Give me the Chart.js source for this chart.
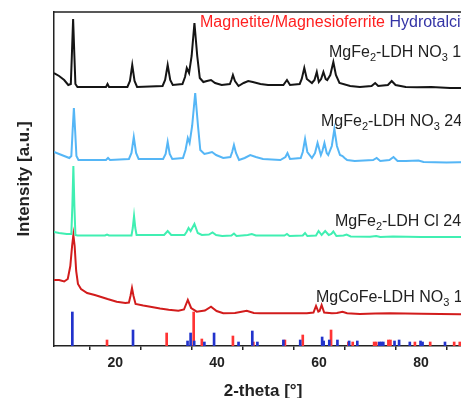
<!DOCTYPE html>
<html>
<head>
<meta charset="utf-8">
<script src="https://cdn.jsdelivr.net/npm/chart.js@4/dist/chart.umd.min.js"></script>
<style>
  html, body { margin: 0; padding: 0; background: #fff; overflow: hidden; width: 461px; height: 398px; }
  canvas { display: block; }
</style>
</head>
<body>
<canvas id="xrdChart" width="480" height="398"></canvas>
<script>
// XRD patterns, stacked with offsets: [2-theta, intensity a.u.]
const mgFeNo3_1h = [
  [8, 273], [9, 270], [10, 266], [10.8, 261], [11.3, 262], [11.5, 290], [11.75, 327], [12.0, 290], [12.2, 262], [12.6, 259],
  [15, 259], [18.2, 259], [18.5, 262], [18.8, 259], [22.4, 259], [22.9, 265], [23.35, 281], [23.8, 265], [24.3, 259],
  [29.3, 260], [29.8, 266], [30.3, 281], [30.8, 266], [31.3, 261], [33.2, 262], [33.7, 269], [34.05, 278], [34.5, 273],
  [35.0, 290], [35.55, 323], [36.1, 290], [36.6, 268], [37.3, 264], [38.0, 265], [38.8, 266], [39.6, 263], [40.9, 261],
  [42.5, 262], [42.8, 266], [43.1, 271], [43.5, 265], [44.2, 260], [45.2, 263], [46.1, 265], [47, 264], [48.5, 262],
  [50, 261], [53.0, 261], [53.7, 266], [54.3, 261], [56.2, 262], [56.6, 267], [57.1, 278], [57.6, 267], [58.6, 263],
  [59.1, 266], [59.55, 274], [59.95, 264], [60.4, 267], [60.85, 274], [61.3, 267], [61.6, 266], [62.2, 271], [62.8, 284],
  [63.3, 271], [64.0, 263], [66.1, 260], [68, 259], [70.3, 260], [71.0, 263], [71.6, 260], [73.5, 261], [74.25, 265],
  [75, 261], [77, 259], [79.2, 258.7], [82, 259], [85.7, 258], [90, 258]
];
const mgFeNo3_24h = [
  [8, 194], [9, 192], [10, 190], [11.0, 188], [11.4, 190], [11.65, 215], [11.9, 238], [12.15, 215], [12.4, 190], [12.8, 186],
  [18.2, 186], [18.6, 188], [19, 186], [22.7, 187], [23.2, 193], [23.65, 209], [24.1, 193], [24.6, 187], [29.4, 187],
  [29.9, 192], [30.3, 204], [30.7, 192], [31.2, 187], [33.3, 188], [33.8, 196], [34.25, 208], [34.6, 203], [35.1, 220],
  [35.7, 253], [36.25, 220], [36.7, 196], [37.5, 192], [38.3, 193], [39.0, 194], [39.8, 191], [41.2, 188], [42.6, 189],
  [42.95, 194], [43.3, 201], [43.7, 193], [44.3, 186], [45.4, 188], [46.5, 191], [47.6, 189], [49, 187], [52.4, 186],
  [53.4, 189], [53.8, 193], [54.3, 187], [56.4, 188], [56.8, 194], [57.25, 207], [57.7, 194], [58.6, 188], [59.2, 193],
  [59.7, 203], [60.35, 191], [60.65, 195], [61.05, 203], [61.5, 193], [61.8, 191], [62.5, 200], [63.0, 217], [63.5, 200],
  [64.1, 191], [64.6, 190], [65.0, 188], [65.5, 186], [67, 185], [70.6, 186], [71.3, 188], [72, 185], [73.8, 186],
  [74.6, 189], [75.4, 185], [77, 185], [79.5, 185.5], [80.5, 184], [85, 183.5], [90, 184]
];
const mgFeCl_24h = [
  [8, 114], [9, 113], [10.5, 112], [11.4, 112], [11.6, 140], [11.8, 180], [12.0, 140], [12.2, 111], [12.6, 110.5],
  [18.0, 110.5], [18.4, 111.5], [18.8, 110.5], [23.2, 110.5], [23.45, 118], [23.7, 130], [23.95, 118], [24.2, 111],
  [29.6, 111], [30.3, 115], [31.0, 111], [33.6, 111], [34.0, 114], [34.4, 118], [34.8, 115], [35.55, 122], [36.2, 113],
  [37, 111], [38.4, 111.5], [39.1, 113.5], [39.8, 111], [41, 110], [42.8, 110.5], [43.3, 112.5], [43.8, 110], [46, 111],
  [46.8, 112], [47.6, 110.5], [53.2, 110.5], [53.7, 112], [54.2, 110], [56.8, 110.5], [57.25, 113], [57.7, 110],
  [59.4, 110.5], [59.9, 115], [60.5, 111], [61.2, 115], [61.9, 111], [62.4, 112], [62.8, 114.5], [63.4, 110],
  [64.8, 110.5], [65.4, 111.5], [66.2, 109.5], [70, 109.3], [71.2, 110], [72, 109], [74.5, 109.5], [80, 109], [90, 109]
];
const mgCoFeNo3_1h = [
  [8, 66], [9, 66], [10, 64.5], [10.7, 67], [11.2, 80], [11.55, 100], [11.8, 111], [12.05, 100], [12.35, 75], [12.7, 62],
  [13.3, 57], [14.5, 53], [16, 51], [17.1, 49.3], [18.5, 47], [20.3, 44.3], [22.0, 43], [22.7, 43.5], [23.0, 50],
  [23.3, 58], [23.6, 50], [24.0, 42], [25.5, 40.5], [26.9, 39.3], [28.8, 37.5], [30.5, 36.2], [32.4, 35.3], [33.5, 36.5],
  [34.25, 46], [34.9, 38], [36.0, 34.3], [37.6, 35.5], [38.8, 39.3], [39.9, 35], [41.2, 32.7], [43.5, 33], [45.8, 35.3],
  [47.2, 33], [48.4, 32.7], [51.0, 32.7], [57.6, 32.7], [58.9, 33.5], [59.4, 40], [59.85, 34.3], [60.1, 35], [60.5, 41],
  [61.0, 33.5], [62.5, 32.7], [63.5, 33], [64.6, 34.3], [65.5, 32.7], [68, 32], [71, 32.5], [73.9, 32.7], [80, 32.3],
  [87.6, 31.7], [90, 31.7]
];

// reference stick patterns: [2-theta, relative height]
const hydrotalciteRef = [
  [11.6, 34], [23.5, 16], [34.2, 5], [34.8, 13], [35.5, 5], [37.5, 4], [39.4, 13], [44.2, 4], [46.9, 15], [47.9, 4],
  [53.0, 6], [56.3, 6], [60.6, 9], [60.9, 5], [62.0, 6], [63.6, 6], [65.9, 5], [67.5, 5], [71.8, 4], [72.2, 4], [72.6, 4],
  [74.8, 5], [75.7, 6], [77.8, 4], [79.9, 5], [80.3, 4], [84.7, 4]
];
const magnetiteRef = [
  [18.4, 6], [30.1, 13], [35.4, 34], [37.0, 7], [43.1, 10], [47.1, 4], [53.3, 6], [56.8, 11], [62.35, 16], [65.75, 4],
  [66.6, 4], [70.8, 4], [71.2, 4], [73.6, 6], [74.0, 6], [78.8, 4], [81.8, 4], [86.5, 4], [87.6, 4]
];

const xTicks = [10, 20, 30, 40, 50, 60, 70, 80, 90];

// curve labels: pieces of [text, isSubscript]
const curveLabels = [
  { x: 329, y: 57, parts: [["MgFe", 0], ["2", 1], ["-LDH NO", 0], ["3", 1], [" 1h", 0]] },
  { x: 321, y: 126, parts: [["MgFe", 0], ["2", 1], ["-LDH NO", 0], ["3", 1], [" 24h", 0]] },
  { x: 335, y: 226, parts: [["MgFe", 0], ["2", 1], ["-LDH Cl 24h", 0]] },
  { x: 316, y: 302, parts: [["MgCoFe-LDH NO", 0], ["3", 1], [" 1h", 0]] }
];

const FONT = "'Liberation Sans', Arial, sans-serif";
const toXY = arr => arr.map(p => ({ x: p[0], y: p[1] }));

function lineSet(data, color) {
  return {
    type: "line",
    data: toXY(data),
    borderColor: color,
    borderWidth: 2,
    pointRadius: 0,
    tension: 0,
    fill: false,
    order: 1
  };
}

function stickSet(data, color) {
  return {
    type: "bar",
    data: toXY(data),
    backgroundColor: color,
    barThickness: 2,
    grouped: false,
    order: 2
  };
}

// frame top line + text annotations
const annotatePlugin = {
  id: "annotate",
  afterDraw(chart) {
    const ctx = chart.ctx;
    const area = chart.chartArea;
    ctx.save();
    ctx.strokeStyle = "#222";
    ctx.lineWidth = 1.5;
    ctx.beginPath();
    ctx.moveTo(area.left, area.top);
    ctx.lineTo(area.right, area.top);
    ctx.lineTo(area.right, area.bottom);
    ctx.stroke();

    ctx.textBaseline = "alphabetic";
    ctx.font = "16px " + FONT;
    ctx.fillStyle = "#ff1f1f";
    const red = "Magnetite/Magnesioferrite";
    ctx.fillText(red, 200, 27);
    const w = ctx.measureText(red + " ").width;
    ctx.fillStyle = "#3434a6";
    ctx.fillText("Hydrotalcite", 200 + w, 27);

    ctx.fillStyle = "#222";
    curveLabels.forEach(lbl => {
      let x = lbl.x;
      lbl.parts.forEach(([txt, sub]) => {
        ctx.font = (sub ? "11px " : "16px ") + FONT;
        ctx.fillText(txt, x, lbl.y + (sub ? 4 : 0));
        x += ctx.measureText(txt).width;
      });
    });
    ctx.restore();
  }
};

new Chart(document.getElementById("xrdChart"), {
  type: "line",
  data: {
    datasets: [
      lineSet(mgFeNo3_1h, "#151515"),
      lineSet(mgFeNo3_24h, "#55b6f6"),
      lineSet(mgFeCl_24h, "#40efb2"),
      lineSet(mgCoFeNo3_1h, "#d21c1c"),
      stickSet(hydrotalciteRef, "#2233cc"),
      stickSet(magnetiteRef, "#ff3434")
    ]
  },
  options: {
    responsive: false,
    animation: false,
    layout: { padding: { top: 12, right: 8, left: 0, bottom: 0 } },
    plugins: { legend: { display: false }, tooltip: { enabled: false } },
    scales: {
      x: {
        type: "linear",
        min: 8,
        max: 90,
        offset: false,
        afterFit: s => { s.height = 52; },
        afterBuildTicks: s => { s.ticks = xTicks.map(v => ({ value: v })); },
        ticks: {
          autoSkip: false,
          maxRotation: 0,
          padding: 5,
          color: "#222",
          font: { family: FONT, size: 14, weight: "bold" },
          callback: v => (v % 20 === 0 ? v : "")
        },
        grid: { drawOnChartArea: false, drawTicks: true, tickLength: 4, color: "#222", lineWidth: 1.5 },
        border: { display: true, color: "#222", width: 1.5 },
        title: {
          display: true,
          text: "2-theta [°]",
          color: "#222",
          padding: { top: 0, bottom: 0 },
          font: { family: FONT, size: 17, weight: "bold", lineHeight: 0.8 }
        }
      },
      y: {
        min: 0,
        max: 334,
        afterFit: s => { s.width = 54; },
        ticks: { display: false },
        grid: { display: false, drawTicks: false },
        border: { display: true, color: "#222", width: 1.5 },
        title: {
          display: true,
          text: "Intensity [a.u.]",
          color: "#222",
          padding: { top: 14, bottom: 0 },
          font: { family: FONT, size: 17, weight: "bold" }
        }
      }
    }
  },
  plugins: [annotatePlugin]
});
</script>
</body>
</html>
